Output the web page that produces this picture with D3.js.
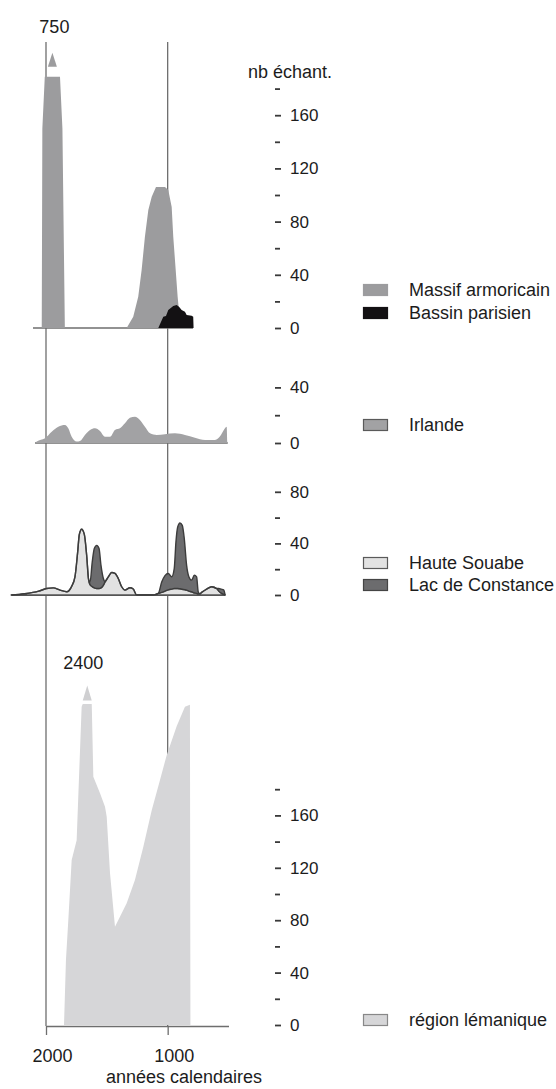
<!DOCTYPE html>
<html><head><meta charset="utf-8">
<script src="https://cdn.jsdelivr.net/npm/d3@7"></script>
<style>
body{margin:0;background:#fff;}
svg text{font-family:"Liberation Sans",Arial,sans-serif;fill:#1c1c1c;}
</style></head><body>
<svg id="c" width="556" height="1089"></svg>
<script>
// ---------- DATA ----------
const refYears = [2000, 1000];
const xTickValues = [2000, 1000];
const xTitle = "années calendaires";
const yTitle = "nb échant.";

// Panel 1 : Massif armoricain / Bassin parisien
const massifYears  = [2035,2030,2010,1885,1865,1845,1337,1283,1242,1214,1187,1159,1131,1096,1022,995,967,954,934,918,905,883];
const massifValues = [0,150,750,750,150,0,0,8.5,23.5,43.6,68.6,88.7,98.7,106,106,103.8,91,68.6,43.6,23.5,11,0];
const bassinYears  = [1077,1036,1014,995,954,926,907,885,858,844,803,790,787];
const bassinValues = [0,8.5,9,13.5,16.5,17.3,16,13.5,12.3,9.8,9.2,8.5,0];

// Panel 2 : Irlande
const irlandeYears  = [2085,2076,2008,1953,1899,1844,1817,1789,1748,1721,1680,1638,1597,1556,1515,1474,1433,1392,1351,1310,1269,1228,1187,1145,1090,1022,940,858,776,693,611,562,529,515,510];
const irlandeValues = [0,1,3.4,8.1,11.7,13,10.6,4.5,1,1.4,5.8,9.4,10.6,8.6,4.5,4.5,9.4,10.6,14.2,18.2,18.9,16.5,11.7,7,5.8,6.3,7,5.8,3.8,2.2,2.2,5.8,10.6,11.7,0];

// Panel 3 : Haute Souabe / Lac de Constance (stacked)
const souabeYears = [2285,2175,2060,1995,1940,1885,1830,1790,1762,1740,1726,1707,1685,1666,1650,1638,1620,1603,1583,1564,1548,1529,1515,1488,1460,1433,1406,1378,1351,1310,1283,1255,1120,1077,1049,1022,995,967,946,932,918,899,880,864,844,825,803,781,762,749,735,721,680,638,597,580,560,540,528];
const hauteSouabe = [0,1,3,5,5.5,3.8,2.5,6.5,14,33,47,51,47,31,12,8,6.5,5.5,5,5,5.5,7.5,10,14,17.5,16.7,12.8,6.4,3.8,5.6,4.6,0,0,1.3,2,3,4,4.6,5,5,5,4.8,4.5,4.2,3.8,3,2.5,1.6,1.3,1,1,2,4.6,6.4,5,3,1.5,0.5,0];
const lacConstance = [0,0,0,0,0,0,0,0,0,0,0,0,0,0,0,2,19,30.5,33.5,31,17.5,5.5,0.5,0,0,0,0,0,0,0,0,0,0,0,8,12,12.7,9.5,15.5,36,47.5,51,49.5,40,19,11,9,13.8,12.7,1.5,0,0,0,0,0,2,3,3.5,0];

// Panel 4 : région lémanique
const lemanYears  = [1852,1836,1815,1789,1748,1707,1698,1624,1611,1556,1515,1501,1474,1433,1337,1269,1200,1131,1063,1008,926,858,817,813];
const lemanValues = [0,49.6,82.7,126,141,243,2400,2400,189.5,177,166.6,159,116,75,93,110.7,136,164,187,206,228,243,244.5,0];

// Tick values per panel
const ticksMajor = [[0,40,80,120,160],[0,40],[0,40,80],[0,40,80,120,160]];
const ticksMinor = [[20,60,100,140,180],[20],[20,60],[20,60,100,140,180]];
// Baseline extents (years) per panel
const baseExtents = [[2107,792],[2090,506],[2280,529]];

// ---------- LAYOUT ----------
const panels = [
  {base:328,  k:1.33, axisBase:328,  clip:189},
  {base:443,  k:1.39, axisBase:442},
  {base:595,  k:1.29, axisBase:593},
  {base:1025, k:1.31, axisBase:1020, clip:245}
];
const C = {
  massif:"#9c9c9e", bassin:"#131113", irlande:"#a2a2a4",
  souabe:"#e2e2e2", constance:"#6c6c6e", leman:"#d6d6d8",
  line:"#6e6e6e", outline:"#4a4a4a"
};

const svg = d3.select("#c");
const x = d3.scaleLinear().domain([2000,500]).range([46,228.5]);
const yOf = p => d3.scaleLinear().domain([0,1]).range([p.base, p.base-p.k]);
const ys = panels.map(p => {
  const s = d3.scaleLinear().domain([0, p.clip||1000]).range([p.base, p.base - (p.clip||1000)*p.k]);
  if (p.clip) s.clamp(true);
  return s;
});

// reference vertical lines (behind)
svg.append("g").selectAll("line").data(refYears).join("line")
  .attr("x1", d=>x(d)).attr("x2", d=>x(d)).attr("y1", 42).attr("y2", 1026)
  .attr("stroke", C.line).attr("stroke-width", 1.3);

// baselines panels 1-3
baseExtents.forEach((e,i)=>{
  svg.append("line").attr("x1", x(e[0])).attr("x2", x(e[1]))
    .attr("y1", panels[i].base).attr("y2", panels[i].base)
    .attr("stroke", i===2 ? "#555" : C.line).attr("stroke-width", i===2?2:1.5);
});

function drawArea(years, vals, pi, fill, curve, stroke){
  const y = ys[pi];
  const data = years.map((yr,i)=>[yr, vals[i]]);
  const a = d3.area().x(d=>x(d[0])).y0(y(0)).y1(d=>y(d[1])).curve(curve||d3.curveLinear);
  svg.append("path").datum(data).attr("d", a).attr("fill", fill)
    .attr("stroke", stroke||"none").attr("stroke-width", stroke?1.4:0).attr("stroke-linejoin","round");
}

// Panel 1
drawArea(massifYears, massifValues, 0, C.massif);
drawArea(bassinYears, bassinValues, 0, C.bassin);
// Panel 2
drawArea(irlandeYears, irlandeValues, 1, C.irlande, d3.curveMonotoneX);
// Panel 3 stacked
{
  const rows = souabeYears.map((yr,i)=>({yr, hs:hauteSouabe[i], lc:lacConstance[i]}));
  const st = d3.stack().keys(["hs","lc"])(rows);
  const y = ys[2];
  const fills = [C.souabe, C.constance];
  st.forEach((s,si)=>{
    const a = d3.area().x(d=>x(d.data.yr)).y0(d=>y(d[0])).y1(d=>y(d[1])).curve(d3.curveMonotoneX);
    svg.append("path").datum(s).attr("d", a).attr("fill", fills[si])
      .attr("stroke", si===0 ? "#555" : "#3c3c3c").attr("stroke-width", 1.4).attr("stroke-linejoin","round");
  });
}
// Panel 4
drawArea(lemanYears, lemanValues, 3, C.leman);

// truncated-peak annotations
function annotate(years, vals, pi, label, fill, gap, h, labelGap, labelDx){
  const p = panels[pi];
  const idx = vals.map((v,i)=>v>p.clip?i:-1).filter(i=>i>=0);
  const cx = d3.mean(idx, i=>x(years[i]));
  const top = ys[pi](p.clip);
  svg.append("path")
    .attr("d", `M${cx-4.5},${top-gap} L${cx+4.5},${top-gap} L${cx},${top-gap-h} Z`)
    .attr("fill", fill);
  svg.append("text").attr("x", cx+labelDx).attr("y", top-labelGap)
    .attr("text-anchor","middle").attr("font-size",18).text(label);
}
annotate(massifYears, massifValues, 0, "750", C.massif, 10, 14, 44, 2);
annotate(lemanYears, lemanValues, 3, "2400", "#cfcfd1", 3.5, 15, 35, -4);

// right-hand count axes
panels.forEach((p,i)=>{
  const s = yOf(p);
  const gMaj = svg.append("g").attr("transform","translate(275,0)")
    .call(d3.axisRight(s).tickValues(ticksMajor[i]).tickSize(6).tickPadding(9).tickFormat(d3.format("d")));
  const gMin = svg.append("g").attr("transform","translate(275,0)")
    .call(d3.axisRight(s).tickValues(ticksMinor[i]).tickSize(5).tickFormat(""));
  [gMaj,gMin].forEach(g=>{
    g.select(".domain").remove();
    g.selectAll(".tick line").attr("stroke","#3a3a3a").attr("stroke-width",1.8);
    g.selectAll(".tick text").attr("font-size",17).attr("fill","#1c1c1c")
      .attr("font-family","'Liberation Sans',Arial,sans-serif");
  });
});
svg.append("text").attr("x",248).attr("y",78).attr("font-size",18).text(yTitle);

// bottom x axis
const gx = svg.append("g").attr("transform","translate(0,1026)")
  .call(d3.axisBottom(x).tickValues(xTickValues).tickSize(9).tickSizeOuter(0).tickPadding(14).tickFormat(d3.format("d")));
gx.select(".domain").attr("stroke",C.line).attr("stroke-width",1.5);
gx.selectAll(".tick line").attr("stroke",C.line).attr("stroke-width",1.3);
gx.selectAll(".tick text").attr("font-size",18).attr("fill","#1c1c1c").attr("dx",6)
  .attr("font-family","'Liberation Sans',Arial,sans-serif");
svg.append("text").attr("x",184).attr("y",1083).attr("text-anchor","middle").attr("font-size",18).text(xTitle);

// legends
const legendNames = ["Massif armoricain","Bassin parisien","Irlande","Haute Souabe","Lac de Constance","région lémanique"];
const legendFills = [C.massif, C.bassin, C.irlande, C.souabe, C.constance, C.leman];
const legendStrokes = [C.massif, C.bassin, "#5a5a5a", "#5a5a5a", "#444", "#888"];
const legendY = [290, 313, 425, 563, 585, 1020];
const lg = svg.append("g").selectAll("g").data(legendNames).join("g")
  .attr("transform",(d,i)=>`translate(0,${legendY[i]})`);
lg.append("rect").attr("x",363.5).attr("y",-5.5).attr("width",24).attr("height",11)
  .attr("fill",(d,i)=>legendFills[i]).attr("stroke",(d,i)=>legendStrokes[i]).attr("stroke-width",1.2);
lg.append("text").attr("x",409).attr("dy","0.36em").attr("font-size",18).text(d=>d);
</script>
</body></html>
